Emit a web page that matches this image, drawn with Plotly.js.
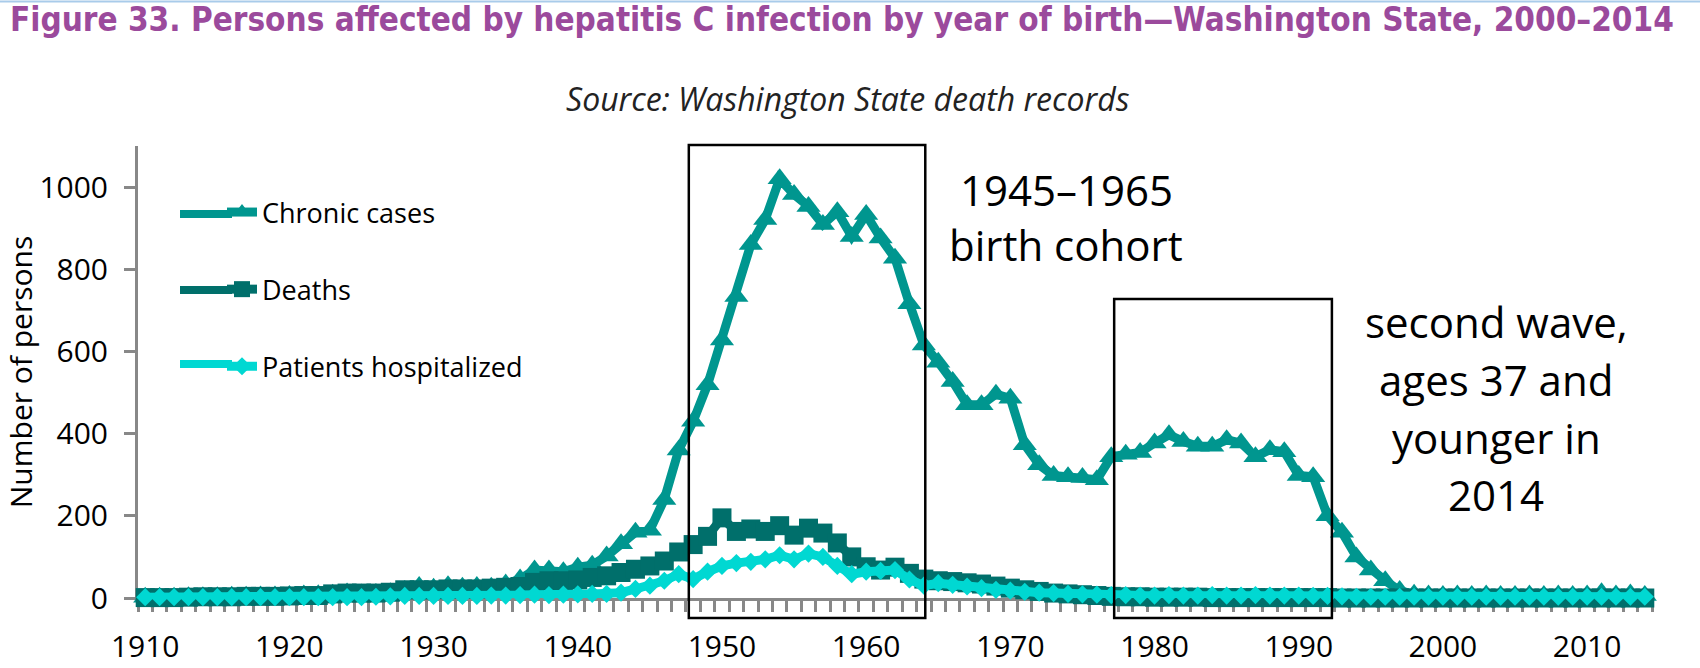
<!DOCTYPE html>
<html>
<head>
<meta charset="utf-8">
<script src="https://cdn.plot.ly/plotly-3.0.1.min.js"></script>
<style>
  html, body { margin: 0; padding: 0; background: #ffffff; }
  #chart { width: 1700px; height: 668px; }
</style>
</head>
<body>
<div id="chart"></div>
<script>
// ---- Data ----
const years = [
  1910,1911,1912,1913,1914,1915,1916,1917,1918,1919,
  1920,1921,1922,1923,1924,1925,1926,1927,1928,1929,
  1930,1931,1932,1933,1934,1935,1936,1937,1938,1939,
  1940,1941,1942,1943,1944,1945,1946,1947,1948,1949,
  1950,1951,1952,1953,1954,1955,1956,1957,1958,1959,
  1960,1961,1962,1963,1964,1965,1966,1967,1968,1969,
  1970,1971,1972,1973,1974,1975,1976,1977,1978,1979,
  1980,1981,1982,1983,1984,1985,1986,1987,1988,1989,
  1990,1991,1992,1993,1994,1995,1996,1997,1998,1999,
  2000,2001,2002,2003,2004,2005,2006,2007,2008,2009,
  2010,2011,2012,2013,2014
];

const chronicCases = [
  2,2,2,3,3,3,4,4,5,5,
  6,7,8,9,12,10,11,13,18,28,
  24,30,26,28,26,34,46,68,68,64,
  75,80,102,132,160,165,240,360,430,519,
  628,734,860,921,1020,982,953,909,940,880,
  933,876,827,716,616,574,527,470,470,496,
  486,373,324,298,295,293,288,344,350,354,
  377,397,381,369,369,385,377,344,361,356,
  298,295,200,160,100,68,42,18,9,7,
  6,7,6,7,6,6,7,6,7,6,
  7,13,7,10,6
];

const deaths = [
  1,1,1,2,3,3,3,4,4,4,
  5,6,6,10,12,12,12,14,20,20,
  20,22,22,22,24,26,28,38,42,42,
  44,50,54,62,70,78,90,112,130,150,
  195,162,168,162,176,153,170,158,134,100,
  76,68,75,60,46,42,40,37,34,29,
  24,20,16,12,10,8,6,4,3,3,
  2,2,2,2,1,1,1,1,1,1,
  1,1,1,0,0,0,0,0,0,0,
  0,0,0,0,0,0,0,0,0,0,
  0,0,0,0,0
];

const hospitalized = [
  2,2,2,2,2,2,2,2,2,2,
  2,2,2,2,2,2,3,4,5,5,
  5,5,5,5,6,6,7,8,7,8,
  9,10,10,13,22,30,42,58,46,64,
  78,85,88,94,104,94,108,100,78,58,
  64,66,68,45,30,36,32,28,24,20,
  18,15,13,12,10,9,8,7,7,6,
  6,7,6,6,7,6,6,7,6,6,
  6,5,5,4,3,3,3,3,3,3,
  3,3,3,3,3,3,3,3,3,3,
  3,3,3,3,3
];

const seriesNames = ["Chronic cases", "Deaths", "Patients hospitalized"];
const xTickVals = [1910,1920,1930,1940,1950,1960,1970,1980,1990,2000,2010];
const yTickVals = [0,200,400,600,800,1000];

const titleText = "Figure 33. Persons affected by hepatitis C infection by year of birth\u2014Washington State, 2000\u20132014";
const subtitleText = "Source: Washington State death records";
const cohortLines = ["1945\u20131965", "birth cohort"];
const waveLines = ["second wave,", "ages 37 and", "younger in", "2014"];

// ---- Styling / layout ----
const COL_CHRONIC = "#00968F";
const COL_DEATHS = "#006F6B";
const COL_HOSP = "#00D8D2";
const SERIES_COLORS = [COL_CHRONIC, COL_DEATHS, COL_HOSP];
const FONT = "Open Sans, Noto Sans, Liberation Sans, sans-serif";

const W = 1700, H = 668;
const M = { l: 138, r: 48, t: 146, b: 70 };
const PW = W - M.l - M.r, PH = H - M.t - M.b;
const px2paperX = px => (px - M.l) / PW;
const px2paperY = py => (H - M.b - py) / PH;

const traces = [
  {
    x: years, y: chronicCases, name: seriesNames[0], type: "scatter", mode: "lines+markers",
    legendgroup: "g1", cliponaxis: false,
    line: { color: COL_CHRONIC, width: 9 },
    marker: { symbol: "triangle-up", size: 21, color: COL_CHRONIC }
  },
  {
    x: years, y: deaths, name: seriesNames[1], type: "scatter", mode: "lines+markers",
    legendgroup: "g2", cliponaxis: false,
    line: { color: COL_DEATHS, width: 9 },
    marker: { symbol: "square", size: 19, color: COL_DEATHS }
  },
  {
    x: years, y: hospitalized, name: seriesNames[2], type: "scatter", mode: "lines+markers",
    legendgroup: "g3", cliponaxis: false,
    line: { color: COL_HOSP, width: 9 },
    marker: { symbol: "diamond", size: 14, color: COL_HOSP }
  }
];

const annotations = [];
annotations.push({
  xref: "paper", yref: "paper", x: px2paperX(8), y: px2paperY(19),
  xanchor: "left", yanchor: "middle", showarrow: false,
  text: "<b>" + titleText + "</b>",
  font: { family: "DejaVu Sans Condensed, DejaVu Sans, sans-serif", size: 33, color: "#9B4A9C" }
});
annotations.push({
  xref: "paper", yref: "paper", x: px2paperX(848), y: px2paperY(99),
  xanchor: "center", yanchor: "middle", showarrow: false,
  text: "<i>" + subtitleText + "</i>",
  font: { family: FONT, size: 32, color: "#222222" }
});
const cohortY = [189, 244];
cohortLines.forEach((t, i) => annotations.push({
  xref: "paper", yref: "paper", x: px2paperX(1066), y: px2paperY(cohortY[i]),
  xanchor: "center", yanchor: "middle", showarrow: false, text: t,
  font: { family: FONT, size: 42, color: "#000000" }
}));
const waveY = [321, 379, 437, 494];
waveLines.forEach((t, i) => annotations.push({
  xref: "paper", yref: "paper", x: px2paperX(1496), y: px2paperY(waveY[i]),
  xanchor: "center", yanchor: "middle", showarrow: false, text: t,
  font: { family: FONT, size: 42, color: "#000000" }
}));

// legend sample lines are longer in the reference: extend them to the left
const legendItemY = [214, 290, 364];
const shapes = [
  { type: "line", xref: "paper", yref: "paper", x0: px2paperX(0), x1: px2paperX(1700),
    y0: px2paperY(1.5), y1: px2paperY(1.5), line: { color: "#A9CBEA", width: 2 } },
  { type: "rect", xref: "x", yref: "paper", x0: 1947.7, x1: 1964.1,
    y0: px2paperY(618), y1: px2paperY(145),
    line: { color: "#000000", width: 2.5 }, fillcolor: "rgba(0,0,0,0)", layer: "above" },
  { type: "rect", xref: "x", yref: "paper", x0: 1977.2, x1: 1992.3,
    y0: px2paperY(618), y1: px2paperY(299),
    line: { color: "#000000", width: 2.5 }, fillcolor: "rgba(0,0,0,0)", layer: "above" }
];
legendItemY.forEach((py, i) => shapes.push({
  type: "line", xref: "paper", yref: "paper",
  x0: px2paperX(180), x1: px2paperX(232), y0: px2paperY(py), y1: px2paperY(py),
  line: { color: SERIES_COLORS[i], width: 8 }
}));

const layout = {
  width: W, height: H,
  margin: M,
  paper_bgcolor: "#ffffff", plot_bgcolor: "#ffffff",
  font: { family: FONT, color: "#000000" },
  showlegend: true,
  legend: {
    x: px2paperX(222), y: px2paperY(188), xanchor: "left", yanchor: "top",
    traceorder: "grouped", tracegroupgap: 39,
    font: { family: FONT, size: 27, color: "#000000" },
    bgcolor: "rgba(0,0,0,0)", borderwidth: 0
  },
  xaxis: {
    range: [1909.5, 2014.5], tickmode: "array", tickvals: xTickVals, ticktext: xTickVals.map(String),
    ticks: "", showgrid: false, zeroline: false,
    showline: true, linecolor: "#888888", linewidth: 3, layer: "below traces",
    tickfont: { family: FONT, size: 30, color: "#000000" },
    ticklabelstandoff: 20,
    minor: { tick0: 1909.5, dtick: 1, ticks: "outside", ticklen: 11, tickwidth: 3, tickcolor: "#888888", showgrid: false }
  },
  yaxis: {
    range: [0, 1100], tickmode: "array", tickvals: yTickVals, ticktext: yTickVals.map(String),
    ticks: "outside", ticklen: 11, tickwidth: 3, tickcolor: "#888888",
    showgrid: false, zeroline: false,
    showline: true, linecolor: "#888888", linewidth: 3, layer: "below traces",
    tickfont: { family: FONT, size: 30, color: "#000000" },
    ticklabelstandoff: 10,
    title: { text: "Number of persons", font: { family: FONT, size: 30, color: "#000000" }, standoff: 8 }
  },
  annotations: annotations,
  shapes: shapes
};

Plotly.newPlot("chart", traces, layout, { staticPlot: true, displayModeBar: false });
</script>
</body>
</html>
